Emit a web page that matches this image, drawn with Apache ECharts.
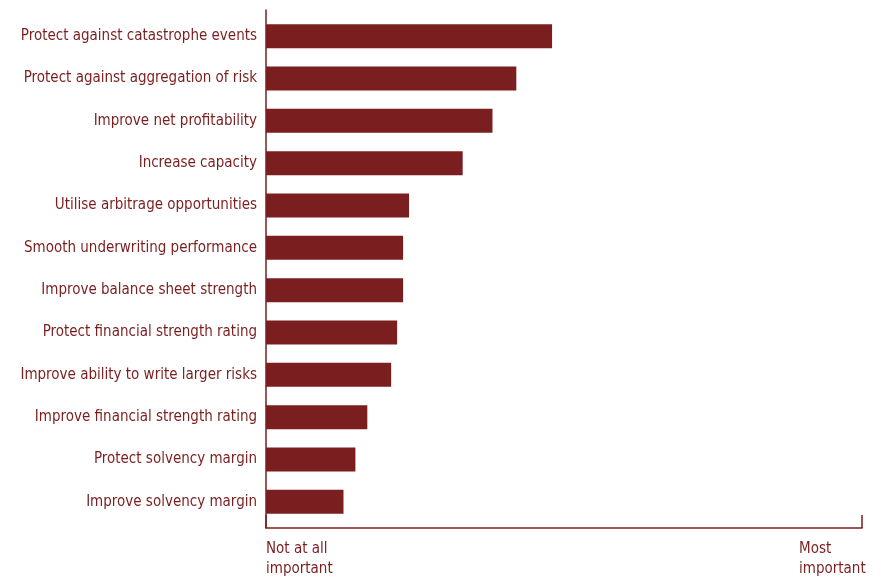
<!DOCTYPE html>
<html>
<head>
<meta charset="utf-8">
<script src="https://cdn.jsdelivr.net/npm/echarts@6/dist/echarts.min.js"></script>
<style>
  html, body { margin: 0; padding: 0; background: #fff; }
  #chart { width: 884px; height: 579px; }
</style>
</head>
<body>
<div id="chart"></div>
<script>
// Reasons for buying reinsurance, ranked by importance
const categories = [
  'Protect against catastrophe events',
  'Protect against aggregation of risk',
  'Improve net profitability',
  'Increase capacity',
  'Utilise arbitrage opportunities',
  'Smooth underwriting performance',
  'Improve balance sheet strength',
  'Protect financial strength rating',
  'Improve ability to write larger risks',
  'Improve financial strength rating',
  'Protect solvency margin',
  'Improve solvency margin'
];
const importance = [48, 42, 38, 33, 24, 23, 23, 22, 21, 17, 15, 13];
const scaleMin = 0;
const scaleMax = 100;
const scaleEndLabels = ['Not at all\nimportant', 'Most\nimportant'];

const RED = '#7a1e1f';
const FONT = '"DejaVu Sans Condensed", "Liberation Sans", sans-serif';
const FONT_SIZE = 15;

const chart = echarts.init(document.getElementById('chart'), null, { renderer: 'canvas' });

chart.setOption({
  animation: false,
  backgroundColor: '#ffffff',
  textStyle: { fontFamily: FONT },
  grid: [
    // bars
    { left: 266, right: 22, top: 15, bottom: 56 },
    // frame with the importance scale
    { left: 266, right: 22, top: 10, bottom: 51 }
  ],
  xAxis: [
    {
      gridIndex: 0, type: 'value', min: scaleMin, max: scaleMax,
      show: false
    },
    {
      gridIndex: 1, type: 'value', min: scaleMin, max: scaleMax, interval: scaleMax - scaleMin,
      axisLine: { show: true, lineStyle: { color: RED, width: 1.5 } },
      axisTick: { show: true, inside: true, length: 13, lineStyle: { color: RED, width: 1.5 } },
      splitLine: { show: false },
      axisLabel: {
        show: true,
        margin: 11,
        color: RED,
        fontFamily: FONT,
        fontSize: FONT_SIZE,
        lineHeight: 20,
        alignMinLabel: 'left',
        alignMaxLabel: 'right',
        formatter: function (v) {
          const txt = v === scaleMin ? scaleEndLabels[0] : scaleEndLabels[1];
          return txt.split('\n').map(s => '{a|' + s + '}').join('\n');
        },
        rich: {
          a: { color: RED, fontFamily: FONT, fontSize: FONT_SIZE, lineHeight: 20, width: 63, align: 'left' }
        }
      }
    }
  ],
  yAxis: [
    {
      gridIndex: 0, type: 'category', data: categories, inverse: true,
      axisLine: { show: false },
      axisTick: { show: false },
      splitLine: { show: false },
      axisLabel: { color: RED, fontFamily: FONT, fontSize: FONT_SIZE, margin: 9 }
    },
    {
      gridIndex: 1, type: 'value', min: 0, max: 1,
      axisLine: { show: true, lineStyle: { color: RED, width: 1.5 } },
      axisTick: { show: false },
      axisLabel: { show: false },
      splitLine: { show: false }
    }
  ],
  series: [
    {
      type: 'bar',
      xAxisIndex: 0,
      yAxisIndex: 0,
      data: importance,
      barWidth: 24,
      itemStyle: { color: RED },
      silent: true
    }
  ]
});
</script>
</body>
</html>
